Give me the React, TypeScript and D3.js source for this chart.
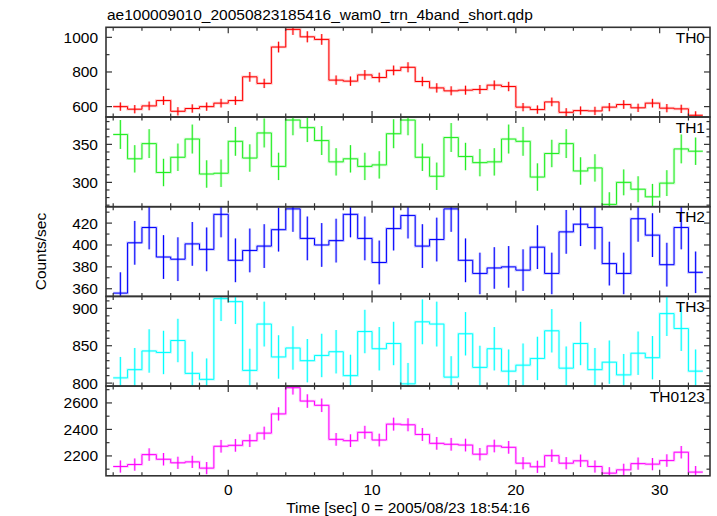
import React from "react";
import * as d3 from "d3";

const TITLE = "ae100009010_20050823185416_wam0_trn_4band_short.qdp";
const X_LABEL = "Time [sec] 0 = 2005/08/23 18:54:16";
const Y_LABEL = "Counts/sec";

const TIME = [-7.5, -6.5, -5.5, -4.5, -3.5, -2.5, -1.5, -0.5, 0.5, 1.5, 2.5, 3.5, 4.5, 5.5, 6.5, 7.5, 8.5, 9.5, 10.5, 11.5, 12.5, 13.5, 14.5, 15.5, 16.5, 17.5, 18.5, 19.5, 20.5, 21.5, 22.5, 23.5, 24.5, 25.5, 26.5, 27.5, 28.5, 29.5, 30.5, 31.5, 32.5];

const TH0 = [600, 585, 604, 635, 573, 589, 600, 620, 635, 772, 734, 944, 1046, 1003, 988, 753, 747, 783, 768, 809, 827, 745, 708, 691, 695, 699, 724, 716, 597, 583, 627, 567, 577, 575, 597, 612, 593, 620, 591, 587, 550];
const TH0_ERR = [24, 24, 25, 25, 24, 24, 24, 25, 25, 28, 27, 31, 32, 32, 31, 27, 27, 28, 28, 28, 29, 27, 27, 26, 26, 26, 27, 27, 24, 24, 25, 24, 24, 24, 24, 25, 24, 25, 24, 24, 23];

const TH1 = [363, 331, 351, 313, 333, 357, 311, 312, 354, 332, 365, 321, 382, 372, 355, 327, 331, 321, 323, 364, 382, 333, 308, 359, 334, 326, 327, 357, 354, 307, 338, 351, 315, 319, 271, 300, 291, 281, 299, 344, 341];
const TH1_ERR = [19, 18, 19, 18, 18, 19, 18, 18, 19, 18, 19, 18, 20, 19, 19, 18, 18, 18, 18, 19, 20, 18, 18, 19, 18, 18, 18, 19, 19, 18, 18, 19, 18, 18, 16, 17, 17, 17, 17, 19, 18];

const TH2 = [356, 402, 416, 389, 387, 401, 396, 428, 386, 395, 399, 414, 433, 406, 400, 404, 428, 406, 384, 415, 427, 399, 405, 433, 386, 374, 379, 380, 377, 398, 374, 412, 419, 416, 383, 374, 424, 409, 382, 416, 375];
const TH2_ERR = [19, 20, 20, 20, 20, 20, 20, 21, 20, 20, 20, 20, 21, 20, 20, 20, 21, 20, 20, 20, 21, 20, 20, 21, 20, 19, 19, 19, 19, 20, 19, 20, 20, 20, 20, 19, 21, 20, 20, 20, 19];

const TH3 = [807, 818, 843, 841, 857, 813, 805, 913, 909, 817, 879, 835, 847, 830, 837, 842, 810, 869, 846, 853, 799, 882, 879, 808, 866, 821, 846, 816, 824, 833, 870, 820, 853, 818, 828, 811, 840, 834, 893, 873, 816];
const TH3_ERR = [28, 29, 29, 29, 29, 29, 28, 30, 30, 29, 30, 29, 29, 29, 29, 29, 28, 29, 29, 29, 28, 30, 30, 28, 29, 29, 29, 29, 29, 29, 29, 29, 29, 29, 29, 28, 29, 29, 30, 30, 29];

const TH0123 = [2120, 2135, 2210, 2175, 2148, 2155, 2108, 2273, 2280, 2315, 2372, 2517, 2715, 2614, 2582, 2325, 2315, 2378, 2320, 2440, 2435, 2362, 2295, 2288, 2282, 2213, 2275, 2265, 2145, 2118, 2202, 2145, 2163, 2120, 2070, 2095, 2142, 2138, 2165, 2228, 2078];
const TH0123_ERR = [46, 46, 47, 47, 46, 46, 46, 48, 48, 48, 49, 50, 52, 51, 51, 48, 48, 49, 48, 49, 49, 49, 48, 48, 48, 47, 48, 48, 46, 46, 47, 46, 47, 46, 45, 46, 46, 46, 47, 47, 46];

const PANEL_NAMES = ["TH0", "TH1", "TH2", "TH3", "TH0123"];
const PANEL_COLORS = ["#ff0000", "#22ee22", "#0000ff", "#00ffff", "#ff00ff"];
const PANEL_DOMAINS: [number, number][] = [[540, 1058], [268, 386], [353, 435], [796, 916], [2050, 2727]];
const Y_MAJOR = [[600, 800, 1000], [300, 350], [360, 380, 400, 420], [800, 850, 900], [2200, 2400, 2600]];
const Y_MINOR_STEP = [100, 10, 10, 10, 100];
const X_DOMAIN: [number, number] = [-8.5, 33.5];
const X_MAJOR = [0, 10, 20, 30];
const X_MINOR_STEP = 2;

const SERIES = [TH0, TH1, TH2, TH3, TH0123];
const ERRORS = [TH0_ERR, TH1_ERR, TH2_ERR, TH3_ERR, TH0123_ERR];

const FONT = "'Liberation Sans', Arial, Helvetica, sans-serif";

export default function App() {
  const W = 717, H = 516;
  const left = 106, right = 710, top = 27.3, ph = 89.7;
  const x = d3.scaleLinear().domain(X_DOMAIN).range([left, right]);
  const line = d3.line<[number, number]>();
  const majorLen = 6, minorLen = 3.5;
  const frameColor = "#333";

  const xMinor = d3.range(-8, 34, X_MINOR_STEP);

  return (
    <svg width={W} height={H} style={{ position: "absolute", left: 0, top: 0, background: "#fff" }} fontFamily={FONT}>
      <defs>
        {PANEL_NAMES.map((n, i) => (
          <clipPath id={`clip${i}`} key={n}>
            <rect x={left} y={top + i * ph} width={right - left} height={ph} />
          </clipPath>
        ))}
      </defs>
      <text x={107} y={20} fontSize={15.5} fill="#000">{TITLE}</text>
      {PANEL_NAMES.map((name, i) => {
        const y0 = top + i * ph, y1 = top + (i + 1) * ph;
        const y = d3.scaleLinear().domain(PANEL_DOMAINS[i]).range([y1, y0]);
        const vals = SERIES[i], errs = ERRORS[i];
        const pts: [number, number][] = [];
        TIME.forEach((t, k) => {
          pts.push([x(t - 0.5), y(vals[k])]);
          pts.push([x(t + 0.5), y(vals[k])]);
        });
        const d = line(pts) || "";
        const step = Y_MINOR_STEP[i];
        const yTicks = d3.range(Math.ceil(PANEL_DOMAINS[i][0] / step) * step, PANEL_DOMAINS[i][1], step);
        const color = PANEL_COLORS[i];
        return (
          <g key={name}>
            <g clipPath={`url(#clip${i})`}>
              <path d={d} fill="none" stroke={color} strokeOpacity={0.22} strokeWidth={2.6} />
              {TIME.map((t, k) => (
                <line key={"eh" + k} x1={x(t)} x2={x(t)} y1={y(vals[k] - errs[k])} y2={y(vals[k] + errs[k])} stroke={color} strokeOpacity={0.22} strokeWidth={2.6} />
              ))}
              <path d={d} fill="none" stroke={color} strokeWidth={1} />
              {TIME.map((t, k) => (
                <line key={"e" + k} x1={x(t)} x2={x(t)} y1={y(vals[k] - errs[k])} y2={y(vals[k] + errs[k])} stroke={color} strokeWidth={1} />
              ))}
            </g>
            {xMinor.map((t) => {
              const len = X_MAJOR.includes(t) ? majorLen : minorLen;
              return (
                <g key={"xt" + t}>
                  <line x1={x(t)} x2={x(t)} y1={y0} y2={y0 + len} stroke={frameColor} strokeWidth={1.2} />
                  <line x1={x(t)} x2={x(t)} y1={y1} y2={y1 - len} stroke={frameColor} strokeWidth={1.2} />
                </g>
              );
            })}
            {yTicks.map((v) => {
              const len = Y_MAJOR[i].includes(v) ? majorLen : minorLen;
              return (
                <g key={"yt" + v}>
                  <line x1={left} x2={left + len} y1={y(v)} y2={y(v)} stroke={frameColor} strokeWidth={1.2} />
                  <line x1={right} x2={right - len} y1={y(v)} y2={y(v)} stroke={frameColor} strokeWidth={1.2} />
                </g>
              );
            })}
            {Y_MAJOR[i].map((v) => (
              <text key={"yl" + v} x={98} y={y(v) + 5.5} fontSize={15.5} textAnchor="end" fill="#000">{v}</text>
            ))}
            <text x={705} y={y0 + 15.5} fontSize={15.5} textAnchor="end" fill="#000">{name}</text>
            <rect x={left} y={y0} width={right - left} height={ph} fill="none" stroke={frameColor} strokeWidth={1.6} />
          </g>
        );
      })}
      {X_MAJOR.map((t) => (
        <text key={"xl" + t} x={x(t)} y={495} fontSize={15.5} textAnchor="middle" fill="#000">{t}</text>
      ))}
      <text x={(left + right) / 2} y={513} fontSize={15.5} textAnchor="middle" fill="#000">{X_LABEL}</text>
      <text transform={`translate(46, ${top + 2.5 * ph}) rotate(-90)`} fontSize={15.5} textAnchor="middle" fill="#000">{Y_LABEL}</text>
    </svg>
  );
}
